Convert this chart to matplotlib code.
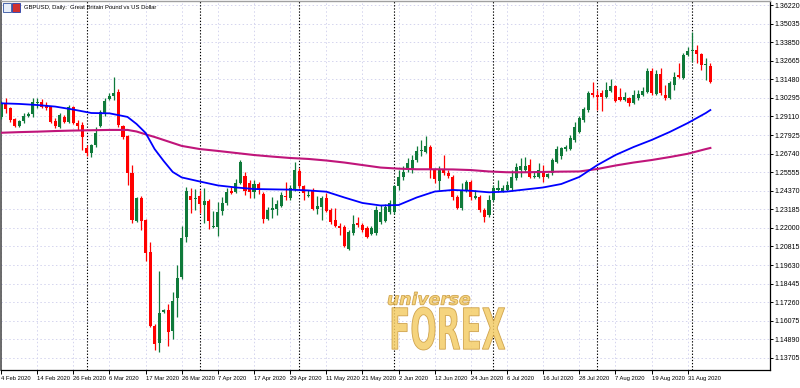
import matplotlib
matplotlib.use("Agg")
import matplotlib.pyplot as plt
from matplotlib import font_manager
from matplotlib.patches import Rectangle, PathPatch
from matplotlib.textpath import TextPath
from matplotlib.font_manager import FontProperties
from matplotlib.transforms import Affine2D

# ---------------- data (GBPUSD daily) ----------------
opens = [
    1.2908, 1.2997, 1.2965, 1.2895, 1.2850, 1.2882, 1.2914, 1.2927, 1.2997, 1.3003,
    1.2984, 1.2971, 1.2882, 1.2844, 1.2908, 1.2876, 1.2971, 1.2869, 1.2857, 1.2710,
    1.2678, 1.2729, 1.2850, 1.2927, 1.3022, 1.3042, 1.3067, 1.2850, 1.2786, 1.2550,
    1.2244, 1.2391, 1.2250, 1.2046, 1.1574, 1.1466, 1.1663, 1.1676, 1.1542, 1.1753,
    1.1887, 1.2142, 1.2404, 1.2384, 1.2404, 1.2346, 1.2372, 1.2206, 1.2206, 1.2308,
    1.2359, 1.2435, 1.2429, 1.2486, 1.2531, 1.2486, 1.2429, 1.2480, 1.2416, 1.2257,
    1.2314, 1.2321, 1.2340, 1.2404, 1.2391, 1.2442, 1.2563, 1.2467, 1.2404, 1.2442,
    1.2321, 1.2333, 1.2391, 1.2314, 1.2250, 1.2212, 1.2206, 1.2065, 1.2168, 1.2231,
    1.2219, 1.2199, 1.2161, 1.2168, 1.2238, 1.2244, 1.2301, 1.2301, 1.2467, 1.2525,
    1.2569, 1.2569, 1.2633, 1.2691, 1.2684, 1.2716, 1.2569, 1.2499, 1.2576, 1.2550,
    1.2525, 1.2397, 1.2327, 1.2442, 1.2493, 1.2391, 1.2397, 1.2314, 1.2282, 1.2378,
    1.2442, 1.2435, 1.2442, 1.2455, 1.2518, 1.2569, 1.2569, 1.2601, 1.2525, 1.2525,
    1.2557, 1.2525, 1.2550, 1.2620, 1.2659, 1.2703, 1.2703, 1.2761, 1.2812, 1.2888,
    1.2952, 1.3061, 1.3048, 1.3061, 1.3035, 1.3073, 1.3105, 1.3035, 1.3016, 1.3029,
    1.2997, 1.3029, 1.3048, 1.3067, 1.3201, 1.3054, 1.3182, 1.3048, 1.3029, 1.3112,
    1.3176, 1.3156, 1.3303, 1.3329, 1.3335, 1.3310, 1.3239, 1.3233,
]
highs = [
    1.3010, 1.3029, 1.2971, 1.2901, 1.2888, 1.2933, 1.2939, 1.3029, 1.3029, 1.3022,
    1.3003, 1.2978, 1.2901, 1.2933, 1.2920, 1.2984, 1.2978, 1.2888, 1.2876, 1.2729,
    1.2735, 1.2844, 1.2952, 1.3029, 1.3061, 1.3163, 1.3086, 1.2857, 1.2793, 1.2601,
    1.2397, 1.2404, 1.2257, 1.2110, 1.1587, 1.1925, 1.1683, 1.1715, 1.1791, 1.1963,
    1.2212, 1.2461, 1.2455, 1.2448, 1.2442, 1.2455, 1.2384, 1.2308, 1.2365, 1.2397,
    1.2455, 1.2461, 1.2512, 1.2633, 1.2557, 1.2506, 1.2506, 1.2493, 1.2429, 1.2333,
    1.2397, 1.2378, 1.2429, 1.2493, 1.2474, 1.2620, 1.2582, 1.2474, 1.2442, 1.2455,
    1.2404, 1.2404, 1.2423, 1.2327, 1.2327, 1.2231, 1.2219, 1.2187, 1.2282, 1.2270,
    1.2231, 1.2212, 1.2212, 1.2340, 1.2346, 1.2352, 1.2378, 1.2474, 1.2569, 1.2595,
    1.2646, 1.2665, 1.2723, 1.2761, 1.2786, 1.2729, 1.2582, 1.2595, 1.2665, 1.2569,
    1.2537, 1.2410, 1.2486, 1.2506, 1.2506, 1.2442, 1.2410, 1.2327, 1.2410, 1.2474,
    1.2506, 1.2474, 1.2499, 1.2569, 1.2614, 1.2646, 1.2652, 1.2640, 1.2557, 1.2614,
    1.2601, 1.2550, 1.2646, 1.2723, 1.2716, 1.2729, 1.2793, 1.2876, 1.2914, 1.2971,
    1.3073, 1.3131, 1.3080, 1.3080, 1.3131, 1.3150, 1.3112, 1.3093, 1.3067, 1.3035,
    1.3080, 1.3080, 1.3099, 1.3220, 1.3220, 1.3207, 1.3220, 1.3112, 1.3137, 1.3195,
    1.3252, 1.3316, 1.3354, 1.3450, 1.3367, 1.3316, 1.3284, 1.3252,
]
lows = [
    1.2895, 1.2933, 1.2876, 1.2844, 1.2844, 1.2869, 1.2908, 1.2908, 1.2965, 1.2965,
    1.2952, 1.2869, 1.2837, 1.2837, 1.2869, 1.2869, 1.2863, 1.2825, 1.2697, 1.2659,
    1.2652, 1.2716, 1.2844, 1.2914, 1.3016, 1.3016, 1.2844, 1.2767, 1.2474, 1.2231,
    1.2238, 1.2187, 1.1989, 1.1568, 1.1421, 1.1408, 1.1657, 1.1447, 1.1491, 1.1632,
    1.1874, 1.2110, 1.2295, 1.2314, 1.2295, 1.2231, 1.2193, 1.2199, 1.2148, 1.2282,
    1.2346, 1.2416, 1.2423, 1.2480, 1.2410, 1.2391, 1.2391, 1.2416, 1.2231, 1.2250,
    1.2263, 1.2282, 1.2333, 1.2378, 1.2378, 1.2435, 1.2455, 1.2378, 1.2397, 1.2314,
    1.2289, 1.2250, 1.2301, 1.2225, 1.2206, 1.2155, 1.2078, 1.2059, 1.2155, 1.2206,
    1.2174, 1.2136, 1.2155, 1.2155, 1.2225, 1.2238, 1.2289, 1.2289, 1.2442, 1.2506,
    1.2557, 1.2550, 1.2620, 1.2659, 1.2678, 1.2518, 1.2486, 1.2442, 1.2537, 1.2518,
    1.2378, 1.2321, 1.2314, 1.2429, 1.2378, 1.2384, 1.2301, 1.2238, 1.2270, 1.2372,
    1.2429, 1.2429, 1.2435, 1.2435, 1.2506, 1.2525, 1.2557, 1.2518, 1.2518, 1.2518,
    1.2493, 1.2518, 1.2537, 1.2614, 1.2640, 1.2691, 1.2697, 1.2748, 1.2806, 1.2876,
    1.2939, 1.3035, 1.2952, 1.2946, 1.3029, 1.3067, 1.3003, 1.3010, 1.3010, 1.2978,
    1.2991, 1.3016, 1.3042, 1.3061, 1.3048, 1.3048, 1.3048, 1.3016, 1.3022, 1.3080,
    1.3156, 1.3150, 1.3297, 1.3258, 1.3252, 1.3207, 1.3144, 1.3125,
]
closes = [
    1.2997, 1.2959, 1.2888, 1.2850, 1.2882, 1.2914, 1.2927, 1.3003, 1.3003, 1.2971,
    1.2965, 1.2876, 1.2850, 1.2920, 1.2876, 1.2971, 1.2869, 1.2850, 1.2780, 1.2678,
    1.2729, 1.2806, 1.2939, 1.3010, 1.3042, 1.3061, 1.2857, 1.2780, 1.2550, 1.2250,
    1.2391, 1.2244, 1.2040, 1.1574, 1.1459, 1.1657, 1.1676, 1.1536, 1.1734, 1.1880,
    1.2136, 1.2435, 1.2378, 1.2391, 1.2352, 1.2372, 1.2244, 1.2212, 1.2301, 1.2359,
    1.2429, 1.2423, 1.2486, 1.2620, 1.2435, 1.2429, 1.2480, 1.2442, 1.2257, 1.2314,
    1.2327, 1.2352, 1.2410, 1.2397, 1.2455, 1.2569, 1.2467, 1.2423, 1.2410, 1.2321,
    1.2340, 1.2391, 1.2308, 1.2238, 1.2212, 1.2199, 1.2085, 1.2174, 1.2225, 1.2219,
    1.2187, 1.2142, 1.2199, 1.2314, 1.2301, 1.2333, 1.2359, 1.2467, 1.2525, 1.2557,
    1.2614, 1.2633, 1.2691, 1.2697, 1.2723, 1.2569, 1.2512, 1.2576, 1.2550, 1.2531,
    1.2397, 1.2327, 1.2442, 1.2493, 1.2397, 1.2404, 1.2314, 1.2270, 1.2378, 1.2455,
    1.2455, 1.2455, 1.2474, 1.2525, 1.2589, 1.2595, 1.2595, 1.2525, 1.2531, 1.2569,
    1.2525, 1.2544, 1.2633, 1.2703, 1.2710, 1.2716, 1.2774, 1.2844, 1.2901, 1.2959,
    1.3061, 1.3048, 1.3035, 1.3035, 1.3080, 1.3105, 1.3010, 1.3016, 1.3035, 1.2997,
    1.3048, 1.3054, 1.3073, 1.3201, 1.3061, 1.3182, 1.3061, 1.3029, 1.3125, 1.3163,
    1.3163, 1.3303, 1.3329, 1.3335, 1.3310, 1.3239, 1.3246, 1.3131,
]

# moving averages, read at these bar positions
ma_idx = [0, 4, 8, 12, 16, 20, 24, 28, 30, 32, 34, 36, 38, 40, 44, 48, 52, 56, 60,
          64, 68, 72, 76, 80, 84, 88, 92, 96, 100, 104, 108, 112, 116, 120, 124,
          128, 132, 136, 140, 144, 148, 152, 156, 157]
ma_fast = [1.2995, 1.2991, 1.2984, 1.2974, 1.2955, 1.2933, 1.2931, 1.2908, 1.2863,
           1.2806, 1.2703, 1.2627, 1.2557, 1.2522, 1.2496, 1.2471, 1.2458, 1.2448,
           1.2446, 1.2444, 1.2439, 1.2431, 1.2394, 1.2359, 1.2343, 1.2346, 1.2394,
           1.2432, 1.2442, 1.2437, 1.2427, 1.2432, 1.2445, 1.2458, 1.2480, 1.2525,
           1.2601, 1.2665, 1.2716, 1.2761, 1.2812, 1.2869, 1.2933, 1.2952]
ma_slow = [1.2807, 1.2811, 1.2814, 1.2818, 1.2821, 1.2823, 1.2825, 1.2825, 1.2815,
           1.2797, 1.2780, 1.2761, 1.2742, 1.2723, 1.2703, 1.2691, 1.2678, 1.2665,
           1.2655, 1.2646, 1.2640, 1.2630, 1.2617, 1.2601, 1.2585, 1.2578, 1.2574,
           1.2574, 1.2573, 1.2569, 1.2560, 1.2555, 1.2555, 1.2557, 1.2559, 1.2560,
           1.2576, 1.2598, 1.2617, 1.2633, 1.2652, 1.2673, 1.2703, 1.2710]

price_ticks = [1.36220, 1.35035, 1.33850, 1.32665, 1.31480, 1.30295, 1.29110,
               1.27925, 1.26740, 1.25555, 1.24370, 1.23185, 1.22000, 1.20815,
               1.19630, 1.18445, 1.17260, 1.16075, 1.14890, 1.13705]
date_labels = ["4 Feb 2020", "14 Feb 2020", "26 Feb 2020", "6 Mar 2020",
               "17 Mar 2020", "26 Mar 2020", "7 Apr 2020", "17 Apr 2020",
               "29 Apr 2020", "11 May 2020", "21 May 2020", "2 Jun 2020",
               "12 Jun 2020", "24 Jun 2020", "6 Jul 2020", "16 Jul 2020",
               "28 Jul 2020", "7 Aug 2020", "19 Aug 2020", "31 Aug 2020"]
date_idx = [0, 8, 16, 24, 32, 40, 48, 56, 64, 72, 80, 88, 96, 104, 112, 120,
            128, 136, 144, 152]
month_starts = [19, 44, 66, 87, 109, 132, 153]

# ---------------- fonts ----------------
installed = {f.name for f in font_manager.fontManager.ttflist}
if "Liberation Sans Narrow" in installed:
    AXFONT, PSIZE, DSIZE, TSIZE = "Liberation Sans Narrow", 6.0, 5.3, 5.2
else:
    AXFONT, PSIZE, DSIZE, TSIZE = "Liberation Sans", 5.0, 4.2, 4.2

# ---------------- figure ----------------
W, H = 800, 388
fig = plt.figure(figsize=(W / 100, H / 100), dpi=100)
fig.patch.set_facecolor("white")
ax = fig.add_axes([1 / W, 18 / H, 769 / W, 369 / H])
ax.set_facecolor("white")

ax.set_xlim(0.07, 170.2)
ax.set_ylim(1.12934, 1.36476)

UP = "#0f7a3a"
DOWN = "#ff0000"
n = len(closes)
idx = list(range(n))
cols = [UP if c >= o else DOWN for o, c in zip(opens, closes)]
bottoms = [min(o, c) for o, c in zip(opens, closes)]
heights = [max(abs(c - o), 0.0005) for o, c in zip(opens, closes)]

ax.vlines(idx, lows, highs, colors=cols, linewidth=0.9, zorder=3)
ax.bar(idx, heights, bottom=bottoms, width=0.68, color=cols, linewidth=0, zorder=4)

ax.plot(ma_idx, ma_slow, color="#c0157a", linewidth=1.5, zorder=5)
ax.plot(ma_idx, ma_fast, color="#0000ff", linewidth=1.3, zorder=5)

for m in month_starts:
    ax.axvline(m, color="black", linestyle=(0, (1.2, 1.6)), linewidth=0.8, zorder=2)

ax.set_yticks(price_ticks)
ax.set_yticklabels([f"{p:.5f}" for p in price_ticks], fontfamily=AXFONT)
ax.set_xticks(date_idx)
ax.set_xticklabels(date_labels, fontfamily=AXFONT)
for lab in ax.get_xticklabels():
    lab.set_ha("left")

ax.yaxis.tick_right()
ax.tick_params(axis="y", direction="out", length=2.2, width=0.7, labelsize=PSIZE,
               pad=0.8, colors="black")
ax.tick_params(axis="x", direction="out", length=3, width=0.7, labelsize=DSIZE,
               pad=1.5, colors="black")

ax.grid(True, color="#d4d4ee", linestyle=(0, (1.5, 2.5)), linewidth=0.7, zorder=0)
ax.set_axisbelow(True)

for s in ("right", "bottom"):
    ax.spines[s].set_color("black")
    ax.spines[s].set_linewidth(0.9)
ax.spines["left"].set_color("#505050")
ax.spines["left"].set_linewidth(1.2)
ax.spines["top"].set_color("#a0a0a0")
ax.spines["top"].set_linewidth(1.0)

# ---------------- header ----------------
fig.add_artist(Rectangle((3 / W, 1 - 12 / H), 8 / W, 9 / H, transform=fig.transFigure,
                         facecolor="#e8eef8", edgecolor="#3050a0", linewidth=0.6))
fig.add_artist(Rectangle((12 / W, 1 - 12 / H), 8 / W, 9 / H, transform=fig.transFigure,
                         facecolor="#d03030", edgecolor="#2040b0", linewidth=0.6))
fig.text(24 / W, 1 - 7.5 / H, "GBPUSD, Daily:  Great Britain Pound vs US Dollar",
         fontsize=TSIZE, fontfamily=AXFONT, color="black",
         va="center", ha="left")

# ---------------- watermark ----------------
def stretched_text(s, x0, y0, x1, y1, weight="bold", style="normal"):
    fp = FontProperties(family="DejaVu Sans", weight=weight, style=style)
    tp = TextPath((0, 0), s, size=10, prop=fp)
    bb = tp.get_extents()
    fx0, fx1 = x0 / W, x1 / W
    fy0, fy1 = 1 - y1 / H, 1 - y0 / H
    tr = (Affine2D().translate(-bb.x0, -bb.y0)
          .scale((fx1 - fx0) / bb.width, (fy1 - fy0) / bb.height)
          .translate(fx0, fy0))
    patch = PathPatch(tr.transform_path(tp), transform=fig.transFigure,
                      facecolor="#f4cd68", edgecolor="#c8973a", linewidth=0.6,
                      alpha=0.85, zorder=1)
    fig.add_artist(patch)

stretched_text("universe", 388, 292, 470, 305, weight="bold", style="italic")
stretched_text("FOREX", 392, 307, 505, 350, weight="bold")

fig.savefig("out.png", dpi=100)
